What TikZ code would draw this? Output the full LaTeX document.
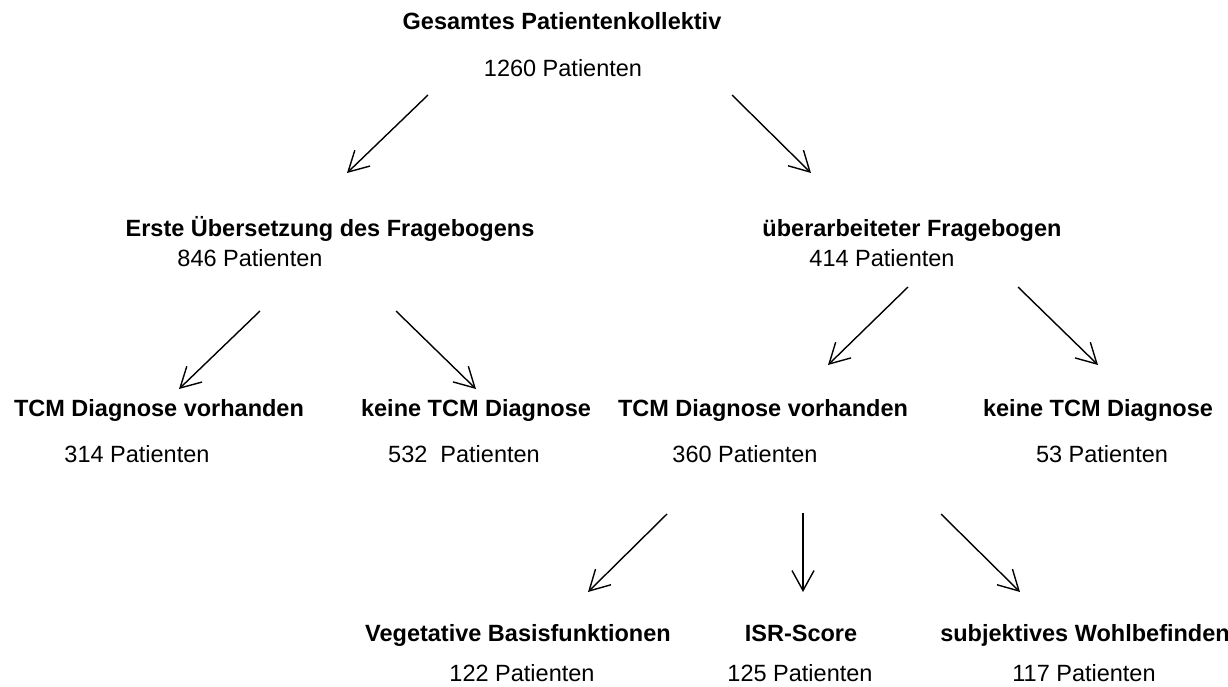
\documentclass[tikz,border=0pt]{standalone}
\usepackage{fontspec}
\setmainfont{Liberation Sans}
\usetikzlibrary{arrows.meta}
\begin{document}
\begin{tikzpicture}[x=1pt,y=-1pt,
  lbl/.style={inner sep=0pt,anchor=base,font=\fontsize{23.5}{28}\selectfont},
  head/.style={lbl,font=\fontsize{23.5}{28}\selectfont\bfseries},
  arr/.style={line width=1.4pt,-{Straight Barb[length=20pt,width=22pt]}}]
\useasboundingbox (0,0) rectangle (1228,687);
% level 0
\node[head] (g) at (562,30) {Gesamtes Patientenkollektiv};
\node[lbl] (gn) at (563,77) {1260 Patienten};
% level 1
\node[head] (e) at (330,236) {Erste Übersetzung des Fragebogens};
\node[lbl] (en) at (250,266) {846 Patienten};
\node[head] (u) at (912,236) {überarbeiteter Fragebogen};
\node[lbl] (un) at (882,266) {414 Patienten};
% level 2
\node[head] (t1) at (159,416) {TCM Diagnose vorhanden};
\node[lbl] (t1n) at (137,462) {314 Patienten};
\node[head] (k1) at (476,416) {keine TCM Diagnose};
\node[lbl] (k1n) at (464,462) {532\ \ Patienten};
\node[head] (t2) at (763,416) {TCM Diagnose vorhanden};
\node[lbl] (t2n) at (745,462) {360 Patienten};
\node[head] (k2) at (1098,416) {keine TCM Diagnose};
\node[lbl] (k2n) at (1102,462) {53 Patienten};
% level 3
\node[head] (v) at (518,641) {Vegetative Basisfunktionen};
\node[lbl] (vn) at (522,681) {122 Patienten};
\node[head] (i) at (801,641) {ISR-Score};
\node[lbl] (in) at (800,681) {125 Patienten};
\node[head] (s) at (1085,641) {subjektives Wohlbefinden};
\node[lbl] (sn) at (1084,681) {117 Patienten};
% arrow endpoints
\coordinate (a1s) at (428,95);  \coordinate (a1e) at (347,173);
\coordinate (a2s) at (732,95);  \coordinate (a2e) at (811,173);
\coordinate (b1s) at (260,311); \coordinate (b1e) at (179,389);
\coordinate (b2s) at (396,311); \coordinate (b2e) at (476,389);
\coordinate (c1s) at (908,287); \coordinate (c1e) at (828,365);
\coordinate (c2s) at (1018,287);\coordinate (c2e) at (1098,365);
\coordinate (d1s) at (667,514); \coordinate (d1e) at (588,592);
\coordinate (d2s) at (803,513); \coordinate (d2e) at (803,592);
\coordinate (d3s) at (941,514); \coordinate (d3e) at (1020,592);
\draw[arr] (a1s) -- (a1e);
\draw[arr] (a2s) -- (a2e);
\draw[arr] (b1s) -- (b1e);
\draw[arr] (b2s) -- (b2e);
\draw[arr] (c1s) -- (c1e);
\draw[arr] (c2s) -- (c2e);
\draw[arr] (d1s) -- (d1e);
\draw[arr] (d2s) -- (d2e);
\draw[arr] (d3s) -- (d3e);
\end{tikzpicture}
\end{document}
